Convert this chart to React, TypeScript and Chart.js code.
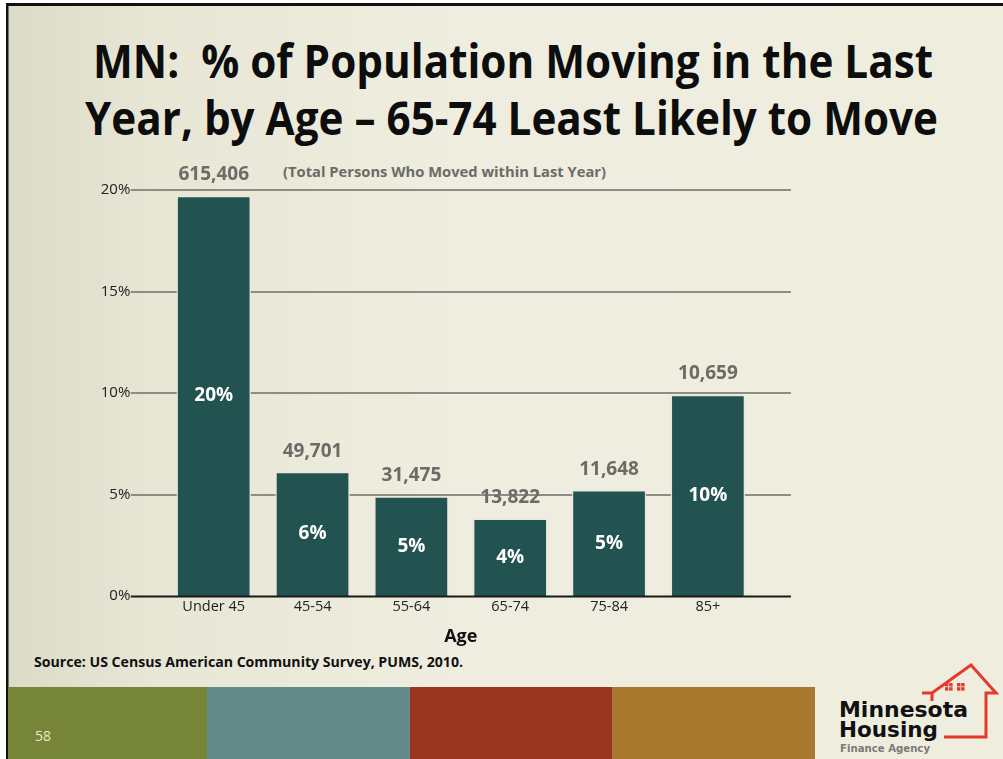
import React, { useEffect, useRef } from "react";
import { Chart, registerables } from "chart.js";

Chart.register(...registerables);

// ---- data ----
const categories = ["Under 45", "45-54", "55-64", "65-74", "75-84", "85+"];
const percentMoved = [19.7, 6.1, 4.9, 3.8, 5.2, 9.9];
const personsMoved = [615406, 49701, 31475, 13822, 11648, 10659];
const percentLabels = ["20%", "6%", "5%", "4%", "5%", "10%"];
const yTickValues = [0, 5, 10, 15, 20];

const FONT = "'Open Sans', 'DejaVu Sans', sans-serif";
// gridlines run past the outer categories by this share of a category width
const GRID_OVERHANG = 0.34;

function gridSpan(chart: any) {
  const xs = chart.scales.x;
  const step = xs.getPixelForValue(1) - xs.getPixelForValue(0);
  return {
    left: chart.chartArea.left - step * GRID_OVERHANG,
    right: chart.chartArea.right + step * GRID_OVERHANG,
  };
}

const wideGridPlugin = {
  id: "wideGrid",
  beforeDatasetsDraw(chart: any) {
    const ctx = chart.ctx;
    const ys = chart.scales.y;
    const { left, right } = gridSpan(chart);
    ctx.save();
    ctx.strokeStyle = "#8d8d86";
    ctx.lineWidth = 2;
    yTickValues.forEach((v) => {
      if (v === 0) return;
      const y = Math.round(ys.getPixelForValue(v));
      ctx.beginPath();
      ctx.moveTo(left, y);
      ctx.lineTo(right, y);
      ctx.stroke();
    });
    ctx.restore();
  },
  afterDatasetsDraw(chart: any) {
    const ctx = chart.ctx;
    const ys = chart.scales.y;
    const { left, right } = gridSpan(chart);
    const y = Math.round(ys.getPixelForValue(0)) + 0.5;
    ctx.save();
    ctx.strokeStyle = "#1a1a1a";
    ctx.lineWidth = 2;
    ctx.beginPath();
    ctx.moveTo(left, y);
    ctx.lineTo(right, y);
    ctx.stroke();
    ctx.restore();
  },
};

const barLabelPlugin = {
  id: "barLabels",
  afterDatasetsDraw(chart: any) {
    const ctx = chart.ctx;
    const meta = chart.getDatasetMeta(0);
    ctx.save();
    ctx.textAlign = "center";
    ctx.textBaseline = "middle";
    meta.data.forEach((bar: any, i: number) => {
      const { x, y, base } = bar.getProps(["x", "y", "base"], true);
      ctx.font = `bold 19px ${FONT}`;
      ctx.fillStyle = "#6b6b67";
      ctx.fillText(personsMoved[i].toLocaleString("en-US"), x, y - 21);
      ctx.fillStyle = "#ffffff";
      ctx.fillText(percentLabels[i], x, (y + base) / 2);
    });
    ctx.restore();
  },
};

function BarChart() {
  const ref = useRef<HTMLCanvasElement>(null);
  useEffect(() => {
    if (!ref.current) return;
    const chart = new Chart(ref.current, {
      type: "bar",
      data: {
        labels: categories,
        datasets: [
          {
            data: percentMoved,
            backgroundColor: "#235351",
            borderColor: "rgba(228,232,218,0.85)",
            borderWidth: 1.5,
            borderSkipped: "start",
            barThickness: 74,
          },
        ],
      },
      options: {
        animation: false,
        responsive: false,
        devicePixelRatio: 1,
        layout: { padding: { left: 0, right: 245.7, top: 190, bottom: 107 } },
        plugins: {
          legend: { display: false },
          tooltip: { enabled: false },
          title: { display: false },
        },
        scales: {
          x: {
            type: "category",
            offset: true,
            afterFit: (s: any) => {
              s.height = 56;
            },
            grid: { display: false, drawTicks: false },
            border: { display: false },
            ticks: {
              padding: 2,
              autoSkip: false,
              maxRotation: 0,
              color: "#222",
              font: { family: FONT, size: 14.5 },
            },
            title: {
              display: true,
              text: "Age",
              color: "#111",
              font: { family: FONT, size: 18, weight: "bold" },
              padding: { top: 4, bottom: 4 },
            },
          },
          y: {
            min: 0,
            max: 20,
            afterBuildTicks: (s: any) => {
              s.ticks = yTickValues.map((v) => ({ value: v }));
            },
            afterFit: (s: any) => {
              s.width = 164.3;
            },
            grid: { display: false, drawTicks: false },
            border: { display: false },
            ticks: {
              callback: (v: any) => v + "%",
              padding: 34,
              color: "#222",
              font: { family: FONT, size: 15 },
            },
          },
        },
      } as any,
      plugins: [wideGridPlugin, barLabelPlugin],
    });
    return () => chart.destroy();
  }, []);
  return (
    <canvas
      ref={ref}
      width={1003}
      height={759}
      style={{ position: "absolute", left: 0, top: 0, width: 1003, height: 759 }}
    />
  );
}

function Slide() {
  return (
    <svg
      width={1003}
      height={759}
      style={{ position: "absolute", left: 0, top: 0 }}
      xmlns="http://www.w3.org/2000/svg"
    >
      <defs>
        <linearGradient id="bg" x1="0" y1="0" x2="1" y2="0">
          <stop offset="0" stopColor="#DCDBC7" />
          <stop offset="0.15" stopColor="#E8E7D6" />
          <stop offset="0.45" stopColor="#EEEDDF" />
          <stop offset="1" stopColor="#EEEDDE" />
        </linearGradient>
      </defs>
      <rect x={0} y={0} width={1003} height={759} fill="#ffffff" />
      <rect x={6} y={3} width={997} height={756} fill="url(#bg)" />
      {/* frame */}
      <rect x={6} y={3} width={997} height={3} fill="#111" />
      <rect x={6} y={3} width={2.5} height={756} fill="#111" />
      {/* title */}
      <g fontFamily={FONT} fontWeight="bold" fill="#0d0d0d" fontSize={47}>
        <text x={93} y={78} textLength={840} lengthAdjust="spacingAndGlyphs" xmlSpace="preserve">
          MN:  % of Population Moving in the Last
        </text>
        <text x={85} y={135} textLength={853} lengthAdjust="spacingAndGlyphs">
          Year, by Age – 65-74 Least Likely to Move
        </text>
      </g>
      <text
        x={283}
        y={177}
        textLength={323}
        lengthAdjust="spacingAndGlyphs"
        fontFamily={FONT}
        fontWeight="bold"
        fontSize={14.5}
        fill="#6b6b67"
      >
        (Total Persons Who Moved within Last Year)
      </text>
      <text
        x={34}
        y={667}
        textLength={429}
        lengthAdjust="spacingAndGlyphs"
        fontFamily={FONT}
        fontWeight="bold"
        fontSize={14}
        fill="#111"
      >
        Source: US Census American Community Survey, PUMS, 2010.
      </text>
      {/* bottom bands */}
      <rect x={8.5} y={687} width={199} height={72} fill="#768537" />
      <rect x={207} y={687} width={203} height={72} fill="#658A8A" />
      <rect x={410} y={687} width={202} height={72} fill="#983622" />
      <rect x={612} y={687} width={203} height={72} fill="#A8792E" />
      <text x={35} y={741} fontFamily={FONT} fontSize={14} fill="#E8E8D8">
        58
      </text>
      {/* logo */}
      <g fill="none" stroke="#E5392B" strokeWidth={3} strokeLinejoin="miter">
        <polyline points="922,693 932,693 971,665 996,693 986,693 986,737 944,737" />
        <polyline points="932,693 932,701" />
      </g>
      <g fill="#E5392B">
        <rect x={945} y={683} width={3.4} height={3.4} />
        <rect x={949.2} y={683} width={3.4} height={3.4} />
        <rect x={945} y={687.2} width={3.4} height={3.4} />
        <rect x={949.2} y={687.2} width={3.4} height={3.4} />
        <rect x={957} y={683} width={3.4} height={3.4} />
        <rect x={961.2} y={683} width={3.4} height={3.4} />
        <rect x={957} y={687.2} width={3.4} height={3.4} />
        <rect x={961.2} y={687.2} width={3.4} height={3.4} />
      </g>
      <text
        x={839}
        y={717}
        textLength={129}
        lengthAdjust="spacingAndGlyphs"
        fontFamily="'DejaVu Sans', sans-serif"
        fontWeight="bold"
        fontSize={22}
        fill="#111"
      >
        Minnesota
      </text>
      <text
        x={839}
        y={737}
        textLength={99}
        lengthAdjust="spacingAndGlyphs"
        fontFamily="'DejaVu Sans', sans-serif"
        fontWeight="bold"
        fontSize={22}
        fill="#111"
      >
        Housing
      </text>
      <text
        x={840}
        y={752}
        textLength={90}
        lengthAdjust="spacingAndGlyphs"
        fontFamily="'DejaVu Sans', sans-serif"
        fontWeight="bold"
        fontSize={10.5}
        fill="#7a7a78"
      >
        Finance Agency
      </text>
    </svg>
  );
}

export default function App() {
  return (
    <div
      style={{
        position: "absolute",
        left: 0,
        top: 0,
        width: 1003,
        height: 759,
        overflow: "hidden",
      }}
    >
      <Slide />
      <BarChart />
    </div>
  );
}
